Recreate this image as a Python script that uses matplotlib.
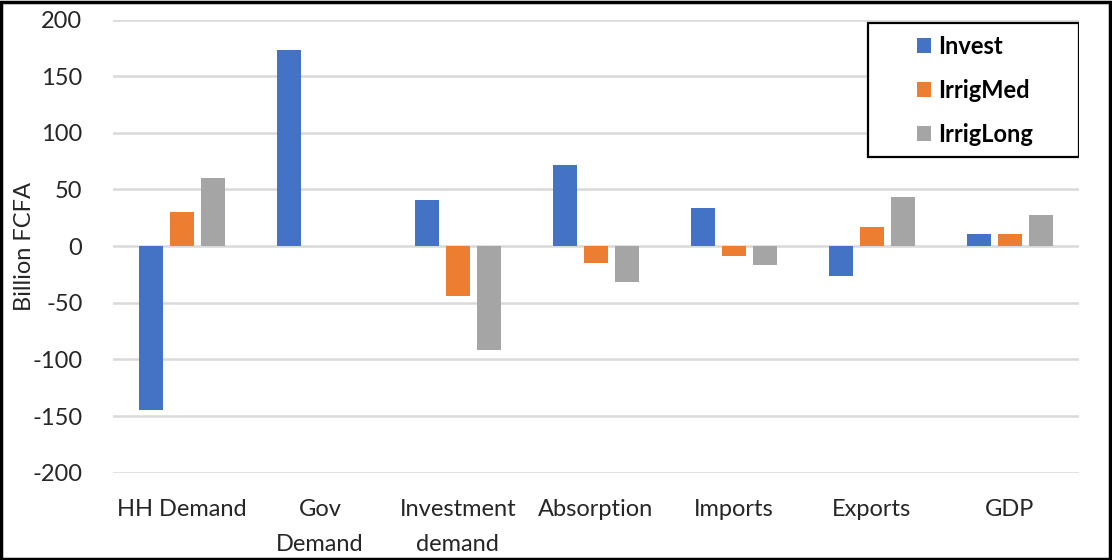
import numpy as np
import matplotlib
matplotlib.use('Agg')
import matplotlib.pyplot as plt
from matplotlib.patches import Rectangle

categories = ['HH Demand', 'Gov\nDemand', 'Investment\ndemand', 'Absorption',
              'Imports', 'Exports', 'GDP']
series = ['Invest', 'IrrigMed', 'IrrigLong']
invest = [-145, 173, 41, 71.5, 34, -26.5, 11]
irrig_med = [30, 0, -44, -15, -9, 17, 11]
irrig_long = [60, 0, -92, -32, -17, 43, 27.5]
colors = ['#4472C4', '#ED7D31', '#A5A5A5']

plt.rcParams['font.family'] = ['Lato', 'DejaVu Sans']
plt.rcParams['axes.unicode_minus'] = False

fig = plt.figure(figsize=(11.12, 5.6), dpi=100)
ax = fig.add_axes([0.1016, 0.156, 0.8684, 0.809])

x = np.arange(len(categories))
width = 0.175
step = 0.225
for i, (name, vals) in enumerate(zip(series, [invest, irrig_med, irrig_long])):
  ax.bar(x + (i - 1) * step, vals, width, color=colors[i], label=name,
         linewidth=0, zorder=3)

ax.set_xlim(-0.5, len(categories) - 0.5)
ax.set_ylim(-200, 200)
ax.set_yticks(range(-200, 201, 50))
ax.set_xticks(x)
ax.set_xticklabels(categories, fontsize=17, color='#262626', linespacing=1.8)
ax.tick_params(axis='x', length=0, pad=19)
ax.tick_params(axis='y', length=0, pad=22, labelsize=17, labelcolor='#262626')
for s in ax.spines.values():
  s.set_visible(False)
ax.grid(axis='y', color='#d9d9d9', linewidth=1.8, zorder=0)
ax.set_axisbelow(True)

ax.set_ylabel('Billion FCFA', fontsize=17, color='#262626')
ax.yaxis.set_label_coords(-0.081, 0.5)

# legend entries sit centred in a wide box drawn separately
box = Rectangle((0.7816, 0.696), 0.2184, 0.296, transform=ax.transAxes,
                facecolor='white', edgecolor='black', linewidth=1.6, zorder=4)
ax.add_patch(box)
leg = ax.legend(loc='center', bbox_to_anchor=(0.893, 0.844), frameon=False,
                prop={'weight': 'bold', 'size': 17},
                handlelength=0.6, handleheight=0.6, handletextpad=0.3,
                labelspacing=0.9, borderpad=0)
leg.set_zorder(5)

fig.patches.append(Rectangle((0.001, 0.002), 0.997, 0.995, transform=fig.transFigure,
                             fill=False, edgecolor='black', linewidth=2.5))

fig.savefig('out.png', dpi=100)
